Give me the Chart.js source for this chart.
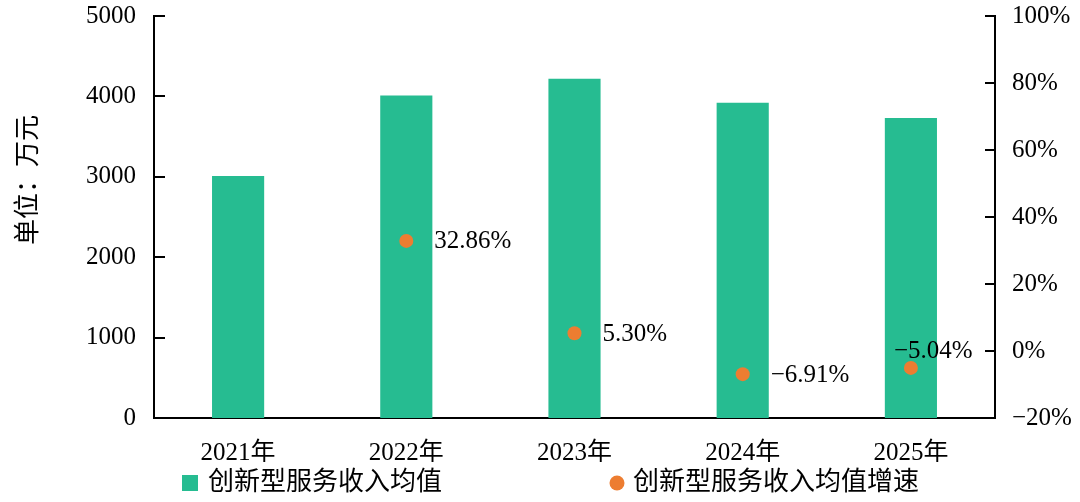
<!DOCTYPE html>
<html>
<head>
<meta charset="utf-8">
<script src="https://cdn.jsdelivr.net/npm/chart.js@4.4.1/dist/chart.umd.min.js"></script>
<style>
    html, body { margin: 0; padding: 0; background: #fff; }
    #wrap { width: 1080px; height: 502px; }
</style>
</head>
<body>
<div id="wrap"><canvas id="chartIncome"></canvas></div>
<script>
var years = ['2021年', '2022年', '2023年', '2024年', '2025年'];
var incomeAvg = [3010, 4010, 4220, 3920, 3730];          // 万元
var incomeGrowth = [null, 32.86, 5.30, -6.91, -5.04];    // %
var leftTicks = [0, 1000, 2000, 3000, 4000, 5000];
var rightTicks = [-20, 0, 20, 40, 60, 80, 100];

var FONT = "'Liberation Serif', 'Noto Sans CJK SC', serif";
var GREEN = '#26bc91';
var ORANGE = '#ed7d31';

function fmtPct(v) {
    return (v < 0 ? '\u2212' : '') + Math.abs(v).toFixed(2) + '%';
}

// ticks pointing into the plot on both value axes
var innerTicks = {
    id: 'innerTicks',
    afterDraw: function (chart) {
        var ctx = chart.ctx, a = chart.chartArea;
        ctx.save();
        ctx.strokeStyle = '#000';
        ctx.lineWidth = 2;
        chart.scales.y.ticks.forEach(function (t) {
            var py = Math.round(chart.scales.y.getPixelForValue(t.value));
            ctx.beginPath(); ctx.moveTo(a.left, py); ctx.lineTo(a.left + 11, py); ctx.stroke();
        });
        chart.scales.y1.ticks.forEach(function (t) {
            var py = Math.round(chart.scales.y1.getPixelForValue(t.value));
            ctx.beginPath(); ctx.moveTo(a.right - 10, py); ctx.lineTo(a.right, py); ctx.stroke();
        });
        // y title
        ctx.fillStyle = '#000';
        ctx.font = '26px ' + FONT;
        ctx.textAlign = 'center';
        ctx.textBaseline = 'middle';
        ctx.translate(29, 180);
        ctx.rotate(-Math.PI / 2);
        ctx.fillText('单位：万元', 0, 0);
        ctx.restore();
    }
};

// growth labels beside the dots
var growthLabels = {
    id: 'growthLabels',
    afterDatasetsDraw: function (chart) {
        var ctx = chart.ctx;
        var meta = chart.getDatasetMeta(1);
        ctx.save();
        ctx.fillStyle = '#000';
        ctx.font = '25px ' + FONT;
        ctx.textAlign = 'left';
        ctx.textBaseline = 'middle';
        meta.data.forEach(function (pt, i) {
            var v = incomeGrowth[i];
            if (v === null) return;
            var last = i === incomeGrowth.length - 1;
            ctx.fillText(fmtPct(v), last ? pt.x - 17 : pt.x + 28, last ? pt.y - 16 : pt.y + 1);
        });
        ctx.restore();
    }
};

// legend spread out like the original
var wideLegend = {
    id: 'wideLegend',
    afterDraw: function (chart) {
        var ctx = chart.ctx;
        var ds = chart.data.datasets;
        var y = 483;
        ctx.save();
        ctx.font = '26px ' + FONT;
        ctx.textBaseline = 'middle';
        ctx.fillStyle = ds[0].backgroundColor;
        ctx.fillRect(182, y - 8, 16, 16);
        ctx.fillStyle = '#000';
        ctx.fillText(ds[0].label, 208, y);
        ctx.fillStyle = ds[1].backgroundColor;
        ctx.beginPath(); ctx.arc(617, y, 7.5, 0, Math.PI * 2); ctx.fill();
        ctx.fillStyle = '#000';
        ctx.fillText(ds[1].label, 633, y);
        ctx.restore();
    }
};

function fitValueAxis(width) {
    return function (s) {
        s.width = width;
        s.paddingTop = 0;
        s.paddingBottom = 0;
    };
}

document.addEventListener('DOMContentLoaded', function () {
    var ctx = document.getElementById('chartIncome').getContext('2d');
    var chart = new Chart(ctx, {
        data: {
            labels: years,
            datasets: [{
                type: 'bar',
                label: '创新型服务收入均值',
                data: incomeAvg,
                backgroundColor: GREEN,
                yAxisID: 'y',
                barPercentage: 0.31,
                categoryPercentage: 1,
                order: 2
            }, {
                type: 'line',
                label: '创新型服务收入均值增速',
                data: incomeGrowth,
                yAxisID: 'y1',
                showLine: false,
                backgroundColor: ORANGE,
                borderColor: ORANGE,
                pointRadius: 7,
                pointHoverRadius: 7,
                pointBorderWidth: 0,
                order: 1
            }]
        },
        options: {
            responsive: true,
            maintainAspectRatio: false,
            animation: false,
            layout: { padding: { top: 16, bottom: 40, left: 0, right: 0 } },
            plugins: {
                legend: { display: false },
                tooltip: { enabled: false }
            },
            scales: {
                x: {
                    grid: { display: false },
                    border: { display: true, color: '#000', width: 2 },
                    ticks: { color: '#000', font: { family: FONT, size: 25 }, padding: 12 },
                    afterFit: function (s) { s.height = 44; }
                },
                y: {
                    position: 'left',
                    min: 0,
                    max: 5000,
                    grid: { display: false },
                    border: { display: true, color: '#000', width: 2 },
                    ticks: {
                        color: '#000',
                        font: { family: FONT, size: 25 },
                        padding: 10,
                        callback: function (v) { return String(v); }
                    },
                    afterBuildTicks: function (s) { s.ticks = leftTicks.map(function (v) { return { value: v }; }); },
                    afterFit: fitValueAxis(154)
                },
                y1: {
                    position: 'right',
                    min: -20,
                    max: 100,
                    grid: { display: false },
                    border: { display: true, color: '#000', width: 2 },
                    ticks: {
                        color: '#000',
                        font: { family: FONT, size: 25 },
                        padding: 9,
                        callback: function (v) { return (v < 0 ? '\u2212' : '') + Math.abs(v) + '%'; }
                    },
                    afterBuildTicks: function (s) { s.ticks = rightTicks.map(function (v) { return { value: v }; }); },
                    afterFit: fitValueAxis(85)
                }
            }
        },
        plugins: [innerTicks, growthLabels, wideLegend]
    });
});
</script>
</body>
</html>
